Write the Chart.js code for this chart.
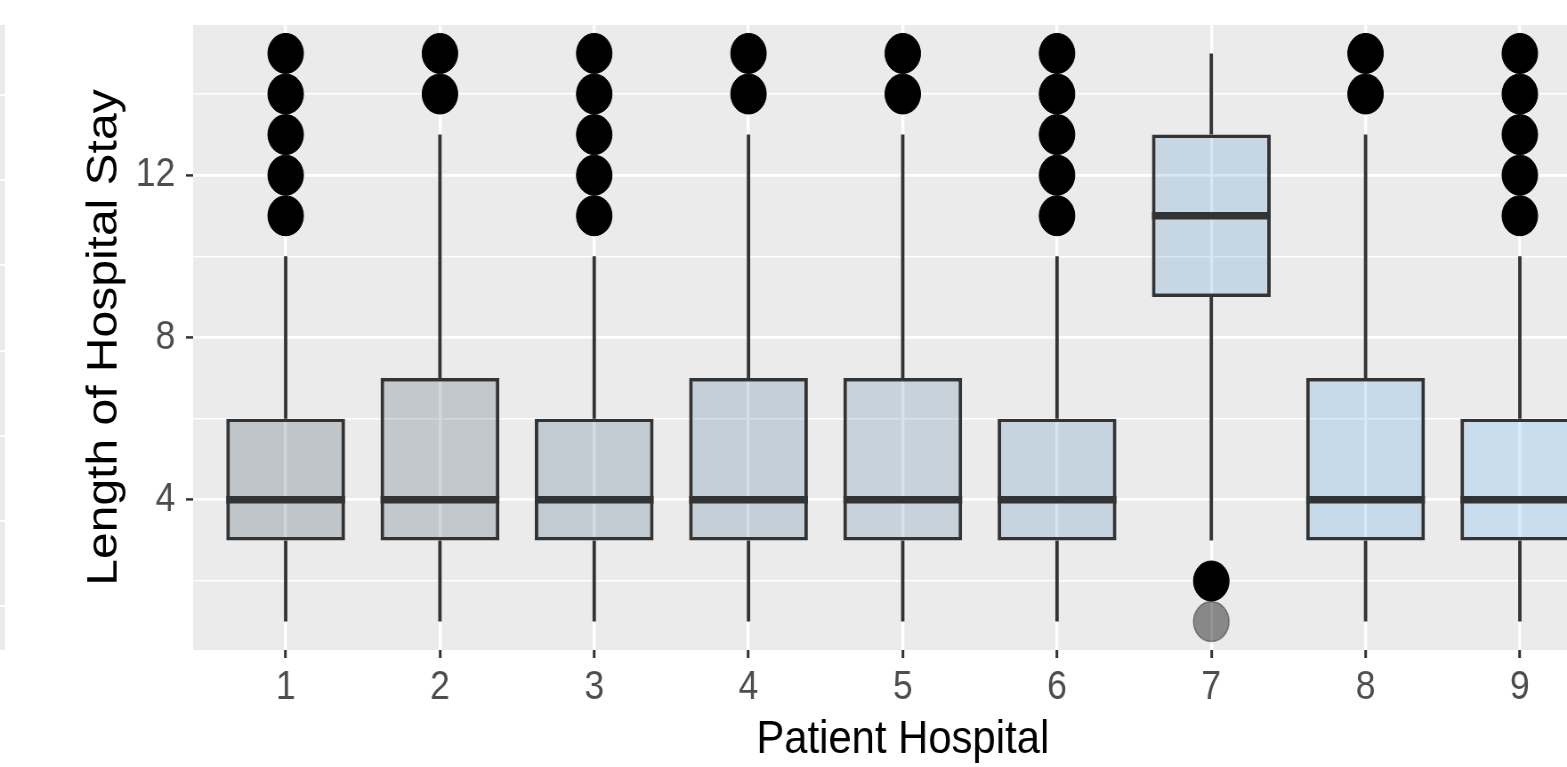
<!DOCTYPE html>
<html>
<head>
<meta charset="utf-8">
<script src="https://cdn.jsdelivr.net/npm/chart.js@4.4.1/dist/chart.umd.min.js"></script>
<style>
html, body { margin: 0; padding: 0; background: #ffffff; overflow: hidden; width: 1567px; height: 767px; }
#wrap { position: absolute; left: 0; top: 0; width: 1812px; height: 767px; transform: scaleX(0.88984); transform-origin: 0 0; }
#strip { position: absolute; left: 0; top: 25px; width: 5px; height: 625px;
  background: repeating-linear-gradient(to bottom, #EBEBEB 0px, #EBEBEB 69px, #ffffff 69px, #ffffff 71px, #EBEBEB 71px, #EBEBEB 85.2px); }
</style>
</head>
<body>
<div id="wrap"><canvas id="c" width="1812" height="767"></canvas></div>
<div id="strip"></div>
<script>
// ---- data ----
const hospitals    = [1, 2, 3, 4, 5, 6, 7, 8, 9];
const q1           = [3, 3, 3, 3, 3, 3, 9, 3, 3];
const medians      = [4, 4, 4, 4, 4, 4, 11, 4, 4];
const q3           = [6, 7, 6, 7, 7, 6, 13, 7, 6];
const whiskerLow   = [1, 1, 1, 1, 1, 1, 3, 1, 1];
const whiskerHigh  = [10, 13, 10, 13, 13, 10, 15, 13, 10];
const outliers     = [[11,12,13,14,15],[14,15],[11,12,13,14,15],[14,15],[14,15],[11,12,13,14,15],[2],[14,15],[11,12,13,14,15]];
const rareOutliers = [[],[],[],[],[],[],[1],[],[]];
const yMajorTicks  = [4, 8, 12];
const yMinorTicks  = [2, 6, 10, 14];

// ---- styles ----
const boxFill = ['rgba(19,43,67,0.2)','rgba(27,60,90,0.2)','rgba(36,77,112,0.2)','rgba(44,93,135,0.2)',
                 'rgba(53,110,157,0.2)','rgba(61,127,180,0.21)','rgba(69,144,202,0.22)','rgba(78,160,225,0.23)','rgba(86,177,247,0.24)'];
const FONT = "'Liberation Sans', Arial, Helvetica, sans-serif";
const HALF_BOX = 0.385;

const boxData = hospitals.map((h, i) => ({ x: h, y: [q1[i], q3[i]] }));
const whiskerData = [];
hospitals.forEach((h, i) => {
  whiskerData.push({ x: h, y: whiskerLow[i] }, { x: h, y: q1[i] }, { x: h, y: null },
                   { x: h, y: q3[i] }, { x: h, y: whiskerHigh[i] }, { x: h, y: null });
});
const medianData = [];
hospitals.forEach((h, i) => {
  medianData.push({ x: h - HALF_BOX, y: medians[i] }, { x: h + HALF_BOX, y: medians[i] }, { x: h, y: null });
});
const outlierData = [];
hospitals.forEach((h, i) => outliers[i].forEach(v => outlierData.push({ x: h, y: v })));
const rareData = [];
hospitals.forEach((h, i) => rareOutliers[i].forEach(v => rareData.push({ x: h, y: v })));

const panelBg = {
  id: 'panelBg',
  beforeDraw(chart) {
    const { ctx, chartArea: a } = chart;
    ctx.save();
    ctx.fillStyle = '#EBEBEB';
    ctx.fillRect(a.left, a.top, a.right - a.left, a.bottom - a.top);
    ctx.restore();
  }
};

const yAllTicks = yMajorTicks.concat(yMinorTicks).sort((a, b) => a - b);
const zeroPad = s => { s.paddingTop = 0; s.paddingBottom = 0; s.paddingLeft = 0; s.paddingRight = 0; };

new Chart(document.getElementById('c'), {
  type: 'bar',
  data: {
    datasets: [
      { type: 'scatter', data: outlierData, order: 0, pointRadius: 20, pointBorderWidth: 1,
        backgroundColor: '#000000', borderColor: '#000000' },
      { type: 'scatter', data: rareData, order: 0, pointRadius: 20, pointBorderWidth: 1.5,
        backgroundColor: 'rgba(0,0,0,0.42)', borderColor: 'rgba(0,0,0,0.35)' },
      { type: 'line', data: medianData, order: 1, borderColor: '#333333', borderWidth: 7.5,
        pointRadius: 0, fill: false, spanGaps: false, tension: 0 },
      { type: 'line', data: whiskerData, order: 2, borderColor: '#333333', borderWidth: 3.8,
        pointRadius: 0, fill: false, spanGaps: false, tension: 0 },
      { type: 'bar', data: boxData, order: 3, backgroundColor: boxFill, borderColor: '#333333',
        borderWidth: { top: 3.4, bottom: 3.4, left: 3.9, right: 3.9 }, borderSkipped: false,
        grouped: false, categoryPercentage: 1, barPercentage: 0.77 }
    ]
  },
  options: {
    responsive: false,
    animation: false,
    layout: { autoPadding: false, padding: { top: 25, left: 0, right: 0, bottom: 0 } },
    plugins: { legend: { display: false }, tooltip: { enabled: false } },
    scales: {
      x: {
        type: 'linear', min: 0.4, max: 9.6, offset: false,
        afterBuildTicks: s => { s.ticks = hospitals.map(v => ({ value: v })); },
        afterFit: s => { s.height = 117; zeroPad(s); },
        border: { display: false },
        grid: { offset: false, color: '#ffffff', lineWidth: 3.4, drawTicks: true, tickLength: 8, tickColor: '#333333', tickWidth: 3 },
        ticks: { color: '#4D4D4D', font: { family: FONT, size: 40, lineHeight: 1 }, padding: 10,
                 autoSkip: false, maxRotation: 0, minRotation: 0, callback: v => String(v) },
        title: { display: true, text: 'Patient Hospital', color: '#000000',
                 font: { family: FONT, size: 47, lineHeight: 1 }, padding: { top: 0, bottom: 3 } }
      },
      y: {
        type: 'linear', min: 0.3, max: 15.7,
        afterBuildTicks: s => { s.ticks = yAllTicks.map(v => ({ value: v })); },
        afterFit: s => { s.width = 217; zeroPad(s); },
        border: { display: false },
        grid: {
          color: '#ffffff',
          lineWidth: c => yMajorTicks.includes(c.tick.value) ? 2.8 : 1.4,
          drawTicks: true, tickLength: 8, tickWidth: 2.5,
          tickColor: c => yMajorTicks.includes(c.tick.value) ? '#333333' : 'rgba(0,0,0,0)'
        },
        ticks: { color: '#4D4D4D', font: { family: FONT, size: 40, lineHeight: 1 }, padding: 12,
                 autoSkip: false, callback: v => yMajorTicks.includes(v) ? String(v) : '' },
        title: { display: true, text: 'Length of Hospital Stay', color: '#000000',
                 font: { family: FONT, size: 48, lineHeight: 1 }, padding: { top: 94, bottom: 0 } }
      }
    }
  },
  plugins: [panelBg]
});
</script>
</body>
</html>
